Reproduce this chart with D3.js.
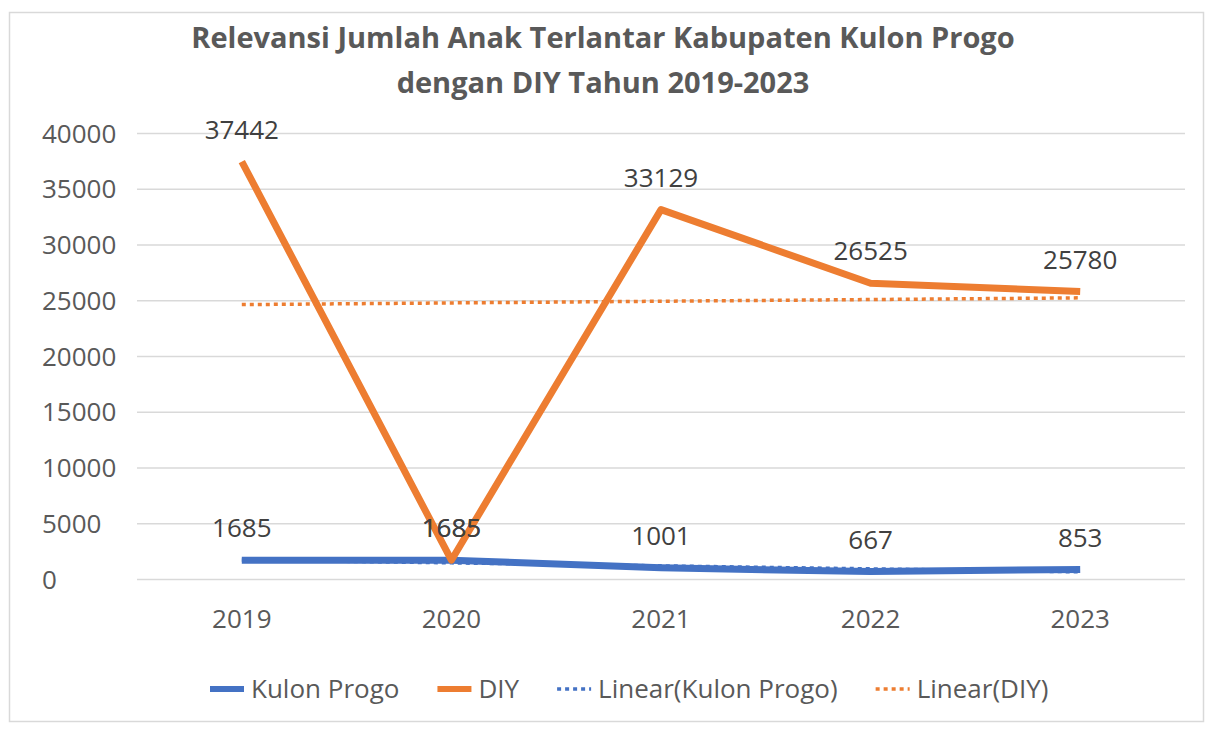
<!DOCTYPE html>
<html>
<head>
<meta charset="utf-8">
<script src="https://cdn.jsdelivr.net/npm/d3@7"></script>
<style>
  html, body { margin: 0; padding: 0; background: #ffffff; }
  svg text { font-family: "Open Sans", "Noto Sans", sans-serif; }
</style>
</head>
<body>
<svg id="chart" width="1206" height="730"></svg>
<script>
// Tahun dan jumlah anak terlantar per wilayah
const years = ["2019", "2020", "2021", "2022", "2023"];
const kulonProgo = [1685, 1685, 1001, 667, 853];
const diy = [37442, 1685, 33129, 26525, 25780];
const yTicks = [0, 5000, 10000, 15000, 20000, 25000, 30000, 35000, 40000];
const titleLines = [
  "Relevansi Jumlah Anak Terlantar Kabupaten Kulon Progo",
  "dengan DIY Tahun 2019-2023"
];

const colors = { kp: "#4472C4", diy: "#ED7D31" };
const textGray = "#595959";

const svg = d3.select("#chart");

// chart frame
svg.append("rect")
  .attr("x", 9.5).attr("y", 12.5)
  .attr("width", 1194).attr("height", 709)
  .attr("fill", "#ffffff")
  .attr("stroke", "#d9d9d9").attr("stroke-width", 1.5);

const plot = { left: 137, right: 1185, top: 133, bottom: 579 };

const x = d3.scaleBand().domain(years).range([plot.left, plot.right]).padding(0);
const cx = d => x(d) + x.bandwidth() / 2;
const y = d3.scaleLinear().domain([0, 40000]).range([plot.bottom, plot.top]);

// title
svg.append("g").selectAll("text")
  .data(titleLines)
  .join("text")
  .attr("x", 603)
  .attr("y", (d, i) => 48 + i * 45)
  .attr("text-anchor", "middle")
  .attr("font-size", 29)
  .attr("font-weight", 700)
  .attr("fill", textGray)
  .text(d => d);

// horizontal gridlines
const yAxis = d3.axisLeft(y)
  .tickValues(yTicks)
  .tickSize(-(plot.right - plot.left))
  .tickFormat(d3.format("d"));

const gy = svg.append("g")
  .attr("transform", `translate(${plot.left},0)`)
  .call(yAxis);
gy.select(".domain").remove();
gy.selectAll(".tick line")
  .attr("stroke", "#d9d9d9")
  .attr("stroke-width", 1.5);
gy.selectAll(".tick text")
  .attr("x", 42 - plot.left)
  .attr("text-anchor", "start")
  .attr("dy", "0.35em")
  .attr("font-size", 26)
  .attr("fill", textGray);

// category labels
const xAxis = d3.axisBottom(x).tickSize(0).tickPadding(0);
const gx = svg.append("g")
  .attr("transform", `translate(0,${plot.bottom})`)
  .call(xAxis);
gx.select(".domain").remove();
gx.selectAll(".tick text")
  .attr("y", 40)
  .attr("dy", "0.35em")
  .attr("font-size", 26)
  .attr("fill", textGray);

// least-squares linear trend over category index
function linearTrend(values) {
  const xs = values.map((_, i) => i + 1);
  const mx = d3.mean(xs), my = d3.mean(values);
  const slope = d3.sum(xs, (xi, i) => (xi - mx) * (values[i] - my)) /
                d3.sum(xs, xi => (xi - mx) ** 2);
  const icpt = my - slope * mx;
  return values.map((_, i) => icpt + slope * (i + 1));
}

const line = d3.line()
  .x((d, i) => cx(years[i]))
  .y(d => y(d));

const series = [
  { name: "Kulon Progo", values: kulonProgo, color: colors.kp },
  { name: "DIY", values: diy, color: colors.diy }
];

// trend lines (dotted)
const trendG = svg.append("g");
series.forEach(s => {
  trendG.append("path")
    .datum(linearTrend(s.values))
    .attr("d", line)
    .attr("fill", "none")
    .attr("stroke", s.color)
    .attr("stroke-width", 3.5)
    .attr("stroke-dasharray", "4 4");
});

// data lines
const lineG = svg.append("g");
series.forEach(s => {
  lineG.append("path")
    .datum(s.values)
    .attr("d", line)
    .attr("fill", "none")
    .attr("stroke", s.color)
    .attr("stroke-width", 7)
    .attr("stroke-linejoin", "round");
});

// data labels above each point
const labelG = svg.append("g");
series.forEach(s => {
  labelG.selectAll(null)
    .data(s.values)
    .join("text")
    .attr("x", (d, i) => cx(years[i]))
    .attr("y", d => y(d) - 32)
    .attr("dy", "0.35em")
    .attr("text-anchor", "middle")
    .attr("font-size", 26)
    .attr("fill", "#404040")
    .text(d => d);
});

// legend
const legendItems = [
  { label: "Kulon Progo", color: colors.kp, dotted: false },
  { label: "DIY", color: colors.diy, dotted: false },
  { label: "Linear(Kulon Progo)", color: colors.kp, dotted: true },
  { label: "Linear(DIY)", color: colors.diy, dotted: true }
];
const legend = svg.append("g").attr("transform", "translate(0,689)");
let lx = 210;
legendItems.forEach(item => {
  const g = legend.append("g").attr("transform", `translate(${lx},0)`);
  g.append("line")
    .attr("x1", 0).attr("x2", 34)
    .attr("y1", 0).attr("y2", 0)
    .attr("stroke", item.color)
    .attr("stroke-width", item.dotted ? 3.5 : 6)
    .attr("stroke-dasharray", item.dotted ? "4 4" : null);
  const t = g.append("text")
    .attr("x", 41)
    .attr("dy", "0.35em")
    .attr("font-size", 26)
    .attr("fill", textGray)
    .text(item.label);
  lx += 41 + t.node().getComputedTextLength() + 38;
});
</script>
</body>
</html>
